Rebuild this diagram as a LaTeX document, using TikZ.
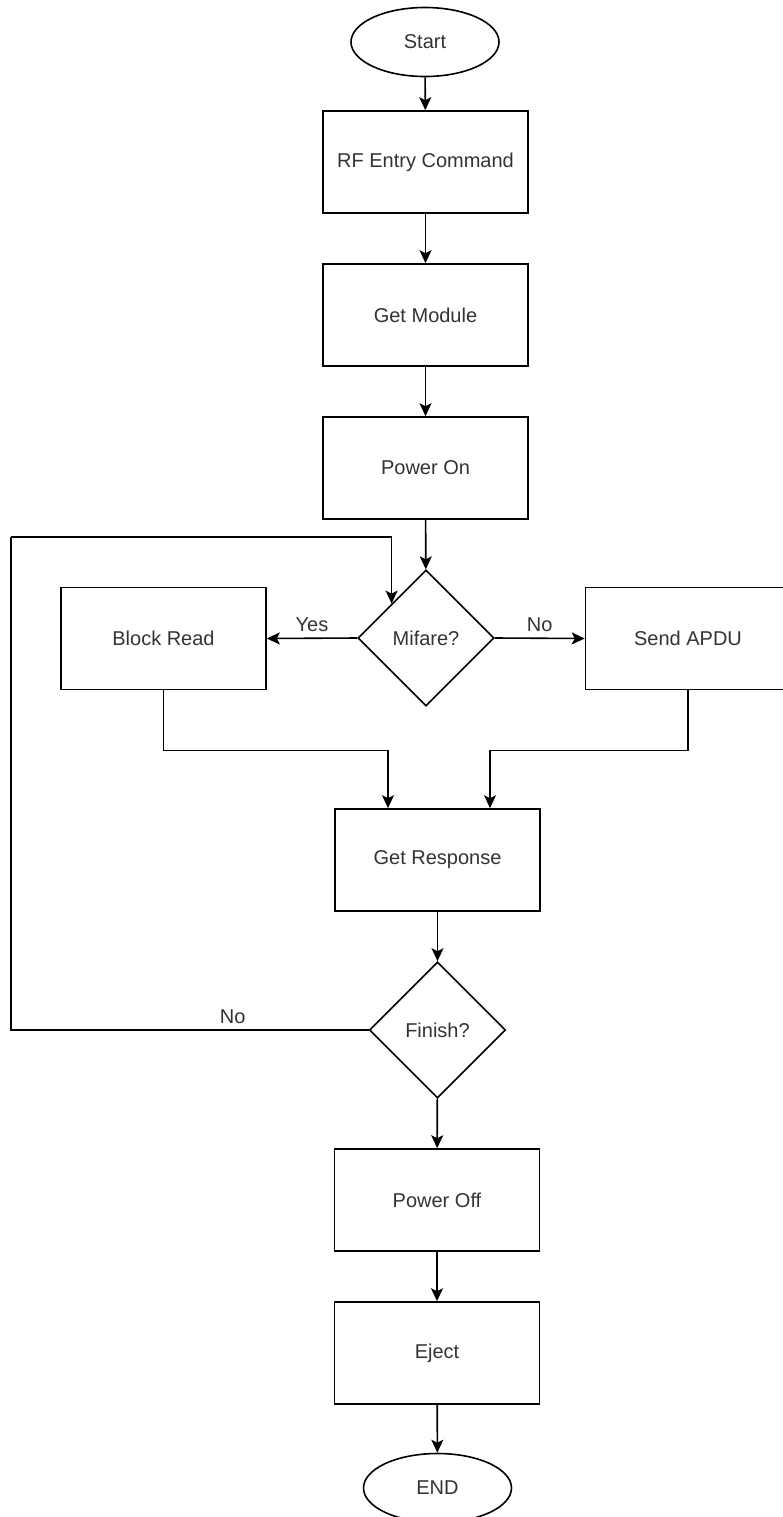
\documentclass[tikz,border=0pt]{standalone}
\usepackage{fontspec}
\setmainfont{Liberation Sans}
\usetikzlibrary{shapes.geometric,arrows.meta}

\begin{document}
\begin{tikzpicture}[x=1pt, y=-1pt]
    \tikzstyle{every node}=[align = center, font=\fontsize{20}{24}\selectfont, text=black!80]
    \tikzstyle{terminal} = [draw, ellipse, line width=1.6pt, minimum width=148pt, minimum height=69pt, inner sep=0pt]
    \tikzstyle{process} = [draw, rectangle, line width=1.6pt, minimum width=205pt, minimum height=102pt, inner sep=0pt]
    \tikzstyle{decision} = [draw, diamond, aspect=1, line width=1.6pt, minimum width=136pt, minimum height=136pt, inner sep=0pt]
    \tikzstyle{arrow} = [line width=1.6pt, -{Stealth[length=13pt, width=12pt, inset=3pt]}]
    \tikzstyle{link} = [line width=1.6pt]
    \useasboundingbox (0,0) rectangle (782,1517);

    \node[terminal] (start) at (425,42) {Start};
    \node[process] (rfentry) at (425.5,162) {RF Entry Command};
    \node[process] (getmodule) at (425.5,315) {Get Module};
    \node[process] (poweron) at (425.5,468) {Power On};
    \node[decision] (mifare) at (426,638) {Mifare?};
    \node[process] (blockread) at (163.5,638.5) {Block Read};
    \node[process] (sendapdu) at (688,638.5) {Send APDU};
    \node[process] (getresp) at (437.5,860) {Get Response};
    \node[decision] (finish) at (437.5,1030) {Finish?};
    \node[process] (poweroff) at (437,1200) {Power Off};
    \node[process] (eject) at (437,1353) {Eject};
    \node[terminal] (end) at (437.5,1488) {END};

    \coordinate (loopdown) at (11,1030);
    \coordinate (loopup) at (11,537);

    \draw[arrow] (start) -- (rfentry);
    \draw[arrow] (rfentry) -- (getmodule);
    \draw[arrow] (getmodule) -- (poweron);
    \draw[arrow] (poweron) -- (mifare);
    \draw[arrow] (mifare.west) -- node[above, yshift=2pt] {Yes} (blockread.east);
    \draw[arrow] (mifare.east) -- node[above, yshift=2pt] {No} (sendapdu.west);
    \draw[arrow] (blockread.south) -- ++(0,60) -| ([xshift=-49.5pt]getresp.north);
    \draw[arrow] (sendapdu.south) -- ++(0,60) -| ([xshift=52.5pt]getresp.north);
    \draw[arrow] (getresp) -- (finish);
    \draw[link] (finish.west) -- node[above, pos=0.38, yshift=2pt] {No} (loopdown) -- (loopup);
    \draw[arrow] (loopup) -| (mifare.north west);
    \draw[arrow] (finish) -- (poweroff);
    \draw[arrow] (poweroff) -- (eject);
    \draw[arrow] (eject) -- (end);
\end{tikzpicture}
\end{document}
